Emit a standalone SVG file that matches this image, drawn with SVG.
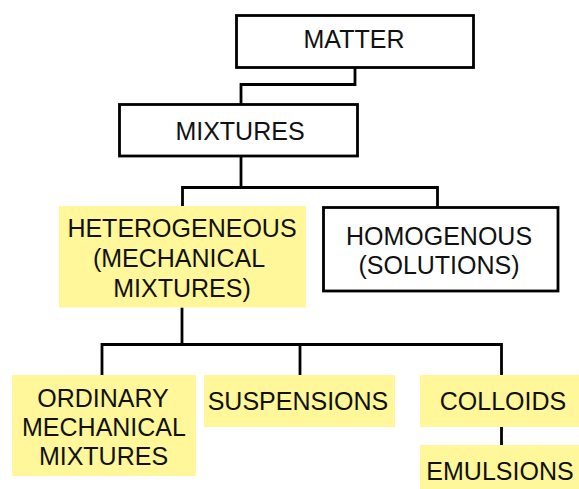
<svg xmlns="http://www.w3.org/2000/svg" width="579" height="489" viewBox="0 0 579 489">
<style>
.box{fill:#ffffff;stroke:#000;stroke-width:2.8}
.hl{fill:#fff799;stroke:none}
.t{font-family:"Liberation Sans",Arial,sans-serif;font-size:25px;fill:#111;text-anchor:middle}
.c{fill:none;stroke:#000;stroke-width:2.8}
</style>
<rect width="579" height="489" fill="#fff"/>
<g id="connectors">
<polyline class="c" points="355,68 355,84.5 241,84.5 241,104"/>
<line class="c" x1="241" y1="156" x2="241" y2="187.5"/>
<polyline class="c" points="182.5,206 182.5,187.5 437.5,187.5 437.5,207"/>
<line class="c" x1="182" y1="307.5" x2="182" y2="344.5"/>
<polyline class="c" points="102,375 102,344.5 501.5,344.5 501.5,375"/>
<line class="c" x1="300" y1="344.5" x2="300" y2="375"/>
<line class="c" x1="501.5" y1="426.5" x2="501.5" y2="445"/>
</g>
<g id="matter">
<rect class="box" x="236.5" y="15.5" width="237" height="52"/>
<text class="t" x="354" y="48">MATTER</text>
</g>
<g id="mixtures">
<rect class="box" x="119.5" y="104.5" width="238" height="51.5"/>
<text class="t" x="240" y="140">MIXTURES</text>
</g>
<g id="heterogeneous">
<rect class="hl" x="59" y="206" width="247" height="101.5"/>
<text class="t" x="182" y="237">HETEROGENEOUS</text>
<text class="t" x="179" y="267">(MECHANICAL</text>
<text class="t" x="182" y="297">MIXTURES)</text>
</g>
<g id="homogenous">
<rect class="box" x="323.5" y="207.5" width="234.5" height="83.5"/>
<text class="t" x="439" y="245">HOMOGENOUS</text>
<text class="t" x="439" y="274">(SOLUTIONS)</text>
</g>
<g id="ordinary">
<rect class="hl" x="12" y="375" width="184" height="101"/>
<text class="t" x="103" y="406.5">ORDINARY</text>
<text class="t" x="104" y="436">MECHANICAL</text>
<text class="t" x="103.5" y="465">MIXTURES</text>
</g>
<g id="suspensions">
<rect class="hl" x="204" y="375" width="191" height="52"/>
<text class="t" x="298" y="410">SUSPENSIONS</text>
</g>
<g id="colloids">
<rect class="hl" x="420" y="375" width="159" height="52"/>
<text class="t" x="503" y="410">COLLOIDS</text>
</g>
<g id="emulsions">
<rect class="hl" x="420" y="445" width="159" height="44"/>
<text class="t" x="500" y="480">EMULSIONS</text>
</g>
</svg>
